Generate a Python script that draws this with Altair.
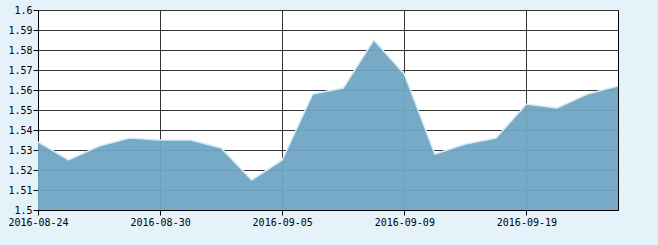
import altair as alt
import pandas as pd

dates = ["2016-08-24", "2016-08-25", "2016-08-26", "2016-08-29", "2016-08-30",
         "2016-08-31", "2016-09-01", "2016-09-02", "2016-09-05", "2016-09-06",
         "2016-09-07", "2016-09-08", "2016-09-09", "2016-09-12", "2016-09-13",
         "2016-09-14", "2016-09-19", "2016-09-20", "2016-09-21", "2016-09-22"]
values = [1.534, 1.525, 1.532, 1.536, 1.535,
          1.535, 1.531, 1.515, 1.525, 1.558,
          1.561, 1.585, 1.568, 1.528, 1.533,
          1.536, 1.553, 1.551, 1.558, 1.562]
label_dates = ["2016-08-24", "2016-08-30", "2016-09-05", "2016-09-09", "2016-09-19"]
y_ticks = [1.5, 1.51, 1.52, 1.53, 1.54, 1.55, 1.56, 1.57, 1.58, 1.59, 1.6]

df = pd.DataFrame({"date": dates, "value": values})

font = "DejaVu Sans Mono"

x = alt.X("date:O", sort=dates,
          scale=alt.Scale(type="point", padding=0),
          axis=alt.Axis(values=label_dates, labelAngle=0, title=None,
                        grid=True, gridColor="#333333", gridWidth=1,
                        domainColor="#000000", tickColor="#000000", tickSize=5,
                        labelFont=font, labelFontSize=10, labelColor="#000000",
                        labelPadding=2))
y = alt.Y("value:Q",
          scale=alt.Scale(domain=[1.5, 1.6], nice=False, zero=False),
          axis=alt.Axis(values=y_ticks, format=".2~f", title=None,
                        grid=True, gridColor="#333333", gridWidth=1,
                        domainColor="#000000", tickColor="#000000", tickSize=5,
                        labelFont=font, labelFontSize=10, labelColor="#000000",
                        labelPadding=1))

area = alt.Chart(df).mark_area(color="#6FA5C3", opacity=0.95, clip=True).encode(
    x=x, y=y, y2=alt.datum(1.5))
edge = alt.Chart(df).mark_line(color="#D8ECF8", strokeWidth=1.5, clip=True).encode(x=x, y=y)

chart = (area + edge).properties(
    width=580, height=200,
    background="#E6F2FA",
    padding={"left": 38, "top": 10, "right": 40, "bottom": 35},
    autosize=alt.AutoSizeParams(type="none"),
).configure_view(stroke="#000000", strokeWidth=1, fill="#FFFFFF")

chart.save("out.html", embed_options={"renderer": "svg", "actions": False})
